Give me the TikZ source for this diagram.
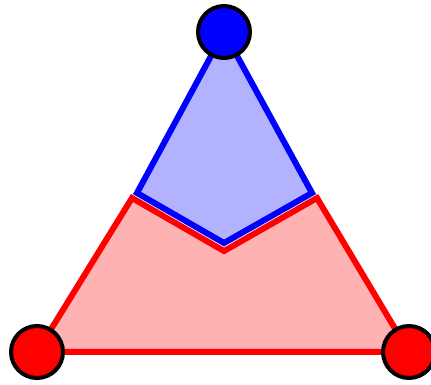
\documentclass[tikz,border=0pt]{standalone}
\begin{document}
\begin{tikzpicture}[x=1pt,y=1pt,line width=6pt,
 vertex/.style={circle,draw=black,line width=4pt,minimum size=52pt,inner sep=0pt}]
 \useasboundingbox (0,0) rectangle (431,385);
 % corners of the triangle
 \coordinate (t) at (224,353);
 \coordinate (l) at (37,33);
 \coordinate (r) at (409,33);
 % red part
 \filldraw[red,fill=red!30] (l) -- (132,187) -- (224,134) -- (317,187) -- (r) -- cycle;
 % blue part
 \filldraw[blue,fill=blue!30] (t) -- (137,192) -- (224,142) -- (312,192) -- cycle;
 \node[vertex,fill=blue] (top) at (t) {};
 \node[vertex,fill=red] (left) at (l) {};
 \node[vertex,fill=red] (right) at (r) {};
\end{tikzpicture}
\end{document}
